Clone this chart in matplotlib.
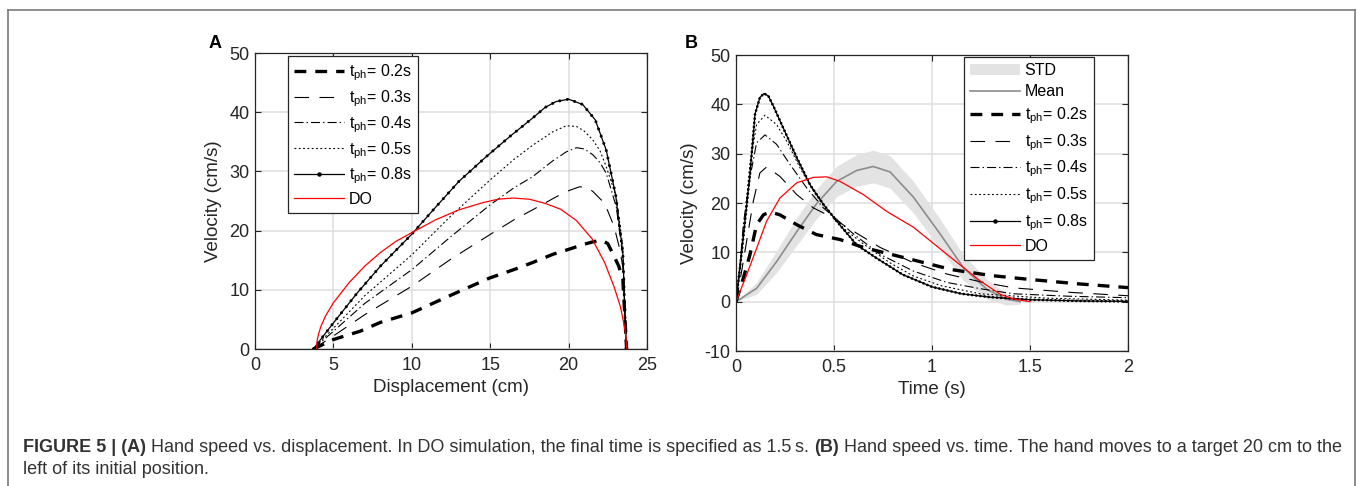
import matplotlib.pyplot as plt
from matplotlib.lines import Line2D
from matplotlib.patches import Patch

plt.rcParams['font.family'] = ['Liberation Sans', 'DejaVu Sans']
plt.rcParams['mathtext.fontset'] = 'custom'
plt.rcParams['mathtext.rm'] = 'Liberation Sans'
plt.rcParams['lines.scale_dashes'] = False
plt.rcParams['axes.unicode_minus'] = False

# ---- Panel A: velocity vs displacement ----
dA_02 = [3.72, 5, 6.7, 8, 10, 12.5, 14.97, 16.5, 17.7, 19, 19.85, 21.0, 21.55, 22.1, 22.5, 22.8, 23.2, 23.46, 23.7]
vA_02 = [0, 1.6, 3.0, 4.5, 6.1, 9.1, 12.0, 13.4, 14.6, 16.0, 16.7, 17.7, 18.1, 18.4, 17.8, 16.2, 14.0, 11.7, 0]
dA_03 = [3.72, 5, 7, 10, 12.5, 14.97, 16.5, 17.7, 19, 19.85, 20.7, 21.2, 21.55, 22.0, 22.3, 22.9, 23.25, 23.46, 23.67]
vA_03 = [0, 2.2, 5.8, 10.6, 15.2, 19.3, 21.8, 23.5, 25.4, 26.6, 27.4, 27.3, 26.6, 25.4, 24.6, 20.7, 17.0, 13.9, 0]
dA_04 = [3.72, 5, 7, 10, 12.5, 14.97, 16.5, 17.7, 19, 19.85, 20.5, 21.0, 21.55, 22.0, 22.4, 23.04, 23.46, 23.67]
vA_04 = [0, 3.0, 7.7, 13.4, 19.0, 24.3, 27.2, 29.1, 31.8, 33.3, 34.0, 33.8, 32.8, 31.5, 29.7, 24.0, 15.6, 0]
dA_05 = [3.72, 5, 7, 10, 12.5, 14.97, 16.5, 17.7, 19, 19.85, 20.5, 21.0, 21.55, 22.0, 22.4, 23.04, 23.46, 23.67]
vA_05 = [0, 3.5, 9.0, 15.9, 22.5, 28.5, 32.0, 34.4, 36.7, 37.7, 37.6, 36.8, 35.3, 33.5, 30.8, 25.7, 17.3, 0]
dA_08 = [3.72, 5, 6.5, 8, 10, 11.4, 13, 14.75, 16.3, 17.7, 18.5, 19.2, 20.0, 20.9, 21.7, 22.4, 23.0, 23.46, 23.67]
vA_08 = [0, 4.4, 9.4, 14.0, 19.4, 23.6, 28.3, 32.5, 36.0, 39.0, 40.8, 41.8, 42.2, 41.3, 38.7, 33.6, 26.0, 16.2, 0]
dA_do = [3.93, 3.96, 4.05, 4.2, 4.5, 5, 6, 7, 8, 9, 10.1, 11.5, 13, 14.5, 15.5, 16.45, 17.5, 18.5, 19.5, 20.5, 21.5, 22.3, 22.9, 23.3, 23.55, 23.65, 23.7]
vA_do = [0, 1.4, 2.5, 3.8, 5.6, 7.8, 11.2, 14.0, 16.3, 18.2, 19.8, 21.8, 23.5, 24.7, 25.3, 25.5, 25.3, 24.6, 23.6, 21.7, 18.6, 14.6, 10.5, 7.2, 4.0, 2.2, 0]

# ---- Panel B: velocity vs time ----
tB_02 = [0, 0.037, 0.071, 0.105, 0.14, 0.173, 0.224, 0.31, 0.41, 0.53, 0.65, 0.8, 0.95, 1.1, 1.3, 1.5, 1.75, 2.0]
vB_02 = [0, 4.7, 9.5, 15.6, 17.6, 18.2, 17.6, 15.6, 13.6, 12.6, 11.0, 9.5, 8.0, 6.5, 5.3, 4.5, 3.6, 2.85]
tB_03 = [0, 0.02, 0.054, 0.088, 0.122, 0.156, 0.224, 0.31, 0.395, 0.48, 0.565, 0.735, 0.905, 1.076, 1.25, 1.416, 1.7, 2.0]
vB_03 = [0, 4.1, 12.2, 20.3, 26.1, 27.3, 25.4, 21.7, 19.0, 17.3, 15.1, 11.0, 7.9, 5.6, 4.0, 2.8, 1.9, 1.2]
tB_04 = [0, 0.02, 0.037, 0.071, 0.105, 0.148, 0.207, 0.276, 0.36, 0.446, 0.6, 0.735, 0.905, 1.076, 1.25, 1.416, 1.7, 2.0]
vB_04 = [0, 6.5, 15.6, 25.1, 32.2, 33.8, 31.9, 27.8, 23.1, 19.0, 13.7, 9.6, 6.2, 3.9, 2.6, 1.6, 1.1, 0.8]
tB_05 = [0, 0.02, 0.046, 0.071, 0.105, 0.148, 0.207, 0.259, 0.327, 0.395, 0.463, 0.55, 0.65, 0.78, 0.905, 1.05, 1.246, 1.59, 2.0]
vB_05 = [0, 7.5, 17.6, 27.8, 35.9, 37.8, 35.9, 32.5, 27.1, 22.4, 19.0, 14.8, 11.7, 8.0, 5.2, 3.2, 1.6, 0.7, 0.3]
tB_08 = [0, 0.02, 0.046, 0.071, 0.097, 0.122, 0.143, 0.165, 0.19, 0.24, 0.31, 0.378, 0.446, 0.514, 0.616, 0.718, 0.85, 1.0, 1.15, 1.3, 1.5, 1.75, 2.0]
vB_08 = [0, 6.8, 16.3, 25.8, 38.0, 41.4, 42.2, 41.7, 39.7, 35.3, 29.2, 23.7, 19.7, 16.3, 11.5, 8.8, 5.5, 3.0, 1.6, 0.9, 0.4, 0.15, 0.05]
tB_do = [0, 0.054, 0.105, 0.156, 0.224, 0.31, 0.395, 0.463, 0.53, 0.65, 0.769, 0.905, 1.076, 1.246, 1.348, 1.42, 1.5]
vB_do = [0, 5.4, 10.8, 16.3, 21.0, 24.1, 25.2, 25.3, 24.4, 21.7, 18.3, 15.1, 9.6, 4.2, 1.5, 0.5, 0]
tB_mean = [0, 0.105, 0.207, 0.31, 0.41, 0.514, 0.616, 0.7, 0.786, 0.905, 1.042, 1.16, 1.28, 1.38, 1.45]
vB_mean = [0, 2.7, 8.1, 14.2, 19.8, 24.4, 26.6, 27.4, 26.3, 21.2, 13.7, 6.9, 2.5, 0.5, 0]
vB_std = [0, 1.2, 2.2, 2.8, 3.0, 3.1, 3.2, 3.3, 3.3, 3.2, 3.0, 2.6, 2.0, 1.2, 0.5]

labels = ['0.2s', '0.3s', '0.4s', '0.5s', '0.8s']

W, H = 1357, 486
fig = plt.figure(figsize=(W / 100, H / 100), dpi=100)
axA = fig.add_axes([255 / W, 1 - 349 / H, 392 / W, 296 / H])
axB = fig.add_axes([736 / W, 1 - 351 / H, 392 / W, 296 / H])

# line styles (dash patterns in points)
styles = [
    dict(color='black', lw=2.4, dashes=(8.5, 6.5)),
    dict(color='black', lw=0.8, dashes=(10.5, 7.5)),
    dict(color='black', lw=0.8, dashes=(6.5, 2.2, 1.0, 2.2)),
    dict(color='black', lw=0.8, dashes=(1.3, 1.8)),
    dict(color='black', lw=0.9),
]
do_style = dict(color='red', lw=0.9)


def tph(s):
    return r'$\mathregular{t_{ph}}$= ' + s


def dotted_overlay(ax, x, y, gap, size):
    # round-capped tiny dashes give the small markers along the 0.8 s line
    ax.plot(x, y, color='black', lw=size, dashes=(0.01, gap),
            dash_capstyle='round', label='_nolegend_')


def legend_handles(with_std):
    hs = []
    if with_std:
        hs.append(Patch(facecolor='#e3e3e3', edgecolor='none', label='STD'))
        hs.append(Line2D([], [], color='#8c8c8c', lw=1.2, label='Mean'))
    for st, lab in zip(styles, labels):
        extra = dict(marker='o', ms=2.2) if lab == '0.8s' else {}
        hs.append(Line2D([], [], label=tph(lab), **st, **extra))
    hs.append(Line2D([], [], label='DO', **do_style))
    return hs


seriesA = [(dA_02, vA_02), (dA_03, vA_03), (dA_04, vA_04), (dA_05, vA_05), (dA_08, vA_08)]
for (x, y), st in zip(seriesA, styles):
    axA.plot(x, y, **st)
dotted_overlay(axA, dA_08, vA_08, 5.5, 2.2)
axA.plot(dA_do, vA_do, **do_style)

axB.fill_between(tB_mean, [m - s for m, s in zip(vB_mean, vB_std)],
                 [m + s for m, s in zip(vB_mean, vB_std)],
                 color='#e3e3e3', lw=0)
axB.plot(tB_mean, vB_mean, color='#8c8c8c', lw=1.2)
seriesB = [(tB_02, vB_02), (tB_03, vB_03), (tB_04, vB_04), (tB_05, vB_05), (tB_08, vB_08)]
for (x, y), st in zip(seriesB, styles):
    axB.plot(x, y, **st)
dotted_overlay(axB, tB_08, vB_08, 3.0, 2.0)
axB.plot(tB_do, vB_do, **do_style)

for ax in (axA, axB):
    ax.grid(True, color='#dedede', lw=1.1)
    ax.set_axisbelow(True)
    for sp in ax.spines.values():
        sp.set_color('#262626')
        sp.set_linewidth(0.9)
    ax.tick_params(direction='in', top=True, right=True, length=4, width=0.8,
                   labelsize=13, colors='#262626')
    ax.tick_params(axis='x', pad=6)
    ax.tick_params(axis='y', pad=4)
    ax.set_ylabel('Velocity (cm/s)', fontsize=13.5, color='#262626', labelpad=5)

axA.set_xlim(0, 25)
axA.set_ylim(0, 50)
axA.set_xticks([0, 5, 10, 15, 20, 25])
axA.set_yticks([0, 10, 20, 30, 40, 50])
axA.set_xlabel('Displacement (cm)', fontsize=13.5, color='#262626', labelpad=3)

axB.set_xlim(0, 2)
axB.set_ylim(-10, 50)
axB.set_xticks([0, 0.5, 1, 1.5, 2])
axB.set_xticklabels(['0', '0.5', '1', '1.5', '2'])
axB.set_yticks([-10, 0, 10, 20, 30, 40, 50])
axB.set_xlabel('Time (s)', fontsize=13.5, color='#262626', labelpad=3)

leg_kw = dict(loc='upper left', fontsize=11.5, handlelength=3.1, handletextpad=0.3,
              borderpad=0.4, fancybox=False, framealpha=1,
              edgecolor='#262626', borderaxespad=0)
legA = axA.legend(handles=legend_handles(False), bbox_to_anchor=(288 / W, 1 - 56 / H),
                  bbox_transform=fig.transFigure, labelspacing=0.33, **leg_kw)
legB = axB.legend(handles=legend_handles(True), bbox_to_anchor=(964 / W, 1 - 57 / H),
                  bbox_transform=fig.transFigure, labelspacing=0.38, **leg_kw)
for leg in (legA, legB):
    leg.get_frame().set_linewidth(0.9)

fig.text(209 / W, 1 - 48 / H, 'A', fontsize=13, fontweight='bold', color='black')
fig.text(685 / W, 1 - 48 / H, 'B', fontsize=13, fontweight='bold', color='black')

# outer frame
frame = dict(color='#7a7a7a', lw=1.2, transform=fig.transFigure)
fig.add_artist(Line2D([8 / W, 8 / W], [0, 1 - 10 / H], **frame))
fig.add_artist(Line2D([1355 / W, 1355 / W], [0, 1 - 10 / H], **frame))
fig.add_artist(Line2D([8 / W, 1355 / W], [1 - 10 / H, 1 - 10 / H], **frame))

# caption, bold and regular pieces laid out in a row
cap1 = [('FIGURE 5 | (A)', 'bold'),
        (' Hand speed vs. displacement. In DO simulation, the final time is specified as 1.5\u2009s. ', 'normal'),
        ('(B)', 'bold'),
        (' Hand speed vs. time. The hand moves to a target 20 cm to the', 'normal')]
cap2 = [('left of its initial position.', 'normal')]
renderer = fig.canvas.get_renderer()


def put_line(pieces, y, size):
    x = 23
    for txt, wt in pieces:
        t = fig.text(x / W, 1 - y / H, txt, fontsize=size, fontweight=wt,
                     color='#333333', family=['Liberation Sans', 'DejaVu Sans'])
        x += t.get_window_extent(renderer).width
    return x


# fit the first caption line to the width it has in the figure
probe = put_line(cap1, -100, 10)
for t in list(fig.texts[-len(cap1):]):
    t.remove()
cap_size = 10 * (1340 - 23) / (probe - 23)
put_line(cap1, 452, cap_size)
put_line(cap2, 474, cap_size)

fig.savefig('out.png', dpi=100)
